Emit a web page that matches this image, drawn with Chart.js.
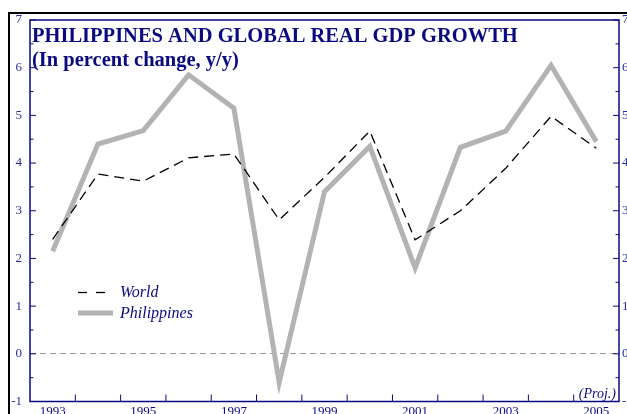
<!DOCTYPE html>
<html>
<head>
<meta charset="utf-8">
<script src="https://cdn.jsdelivr.net/npm/chart.js@4.4.1/dist/chart.umd.min.js"></script>
<style>
  html, body { margin: 0; padding: 0; background: #fff; overflow: hidden; }
  #wrap { width: 627px; height: 414px; overflow: hidden; }
  canvas { display: block; }
</style>
</head>
<body>
<div id="wrap"><canvas id="gdp" width="640" height="414"></canvas></div>
<script>
// data
const years = ['1993', '1994', '1995', '1996', '1997', '1998', '1999', '2000', '2001', '2002', '2003', '2004', '2005'];
const world = [2.4, 3.77, 3.62, 4.11, 4.19, 2.81, 3.7, 4.67, 2.39, 3.0, 3.89, 4.98, 4.31];
const philippines = [2.15, 4.4, 4.68, 5.85, 5.15, -0.6, 3.4, 4.35, 1.8, 4.33, 4.67, 6.05, 4.45];
const yTickLabels = [-1, 0, 1, 2, 3, 4, 5, 6, 7];

const NAVY = '#0a0a80';
const SERIF = "'Liberation Serif', 'Times New Roman', serif";

// frame, inner tick marks, title and legend
const decorations = {
  id: 'decorations',
  beforeDraw(chart) {
    const {ctx, width, height} = chart;
    ctx.save();
    ctx.fillStyle = '#fff';
    ctx.fillRect(0, 0, width, height);
    ctx.strokeStyle = '#000';
    ctx.lineWidth = 2;
    ctx.beginPath();
    ctx.moveTo(9, height);
    ctx.lineTo(9, 13);
    ctx.lineTo(width, 13);
    ctx.stroke();
    ctx.restore();
  },
  afterDraw(chart) {
    const {ctx, chartArea: a, scales} = chart;
    ctx.save();

    // plot box
    ctx.strokeStyle = NAVY;
    ctx.lineWidth = 1.5;
    ctx.strokeRect(a.left, a.top, a.right - a.left, a.bottom - a.top);

    // y ticks pointing inwards on both sides
    ctx.lineWidth = 1;
    scales.y.ticks.forEach(t => {
      const y = scales.y.getPixelForValue(t.value);
      const len = Number.isInteger(t.value) ? 6 : 3.5;
      ctx.beginPath();
      ctx.moveTo(a.left, y);
      ctx.lineTo(a.left + len, y);
      ctx.moveTo(a.right, y);
      ctx.lineTo(a.right - len, y);
      ctx.stroke();
    });

    // x ticks between the years
    for (let i = 0; i < years.length - 1; i++) {
      const x = (scales.x.getPixelForValue(i) + scales.x.getPixelForValue(i + 1)) / 2;
      ctx.beginPath();
      ctx.moveTo(x, a.bottom);
      ctx.lineTo(x, a.bottom - 7);
      ctx.stroke();
    }

    // title
    ctx.fillStyle = NAVY;
    ctx.font = 'bold 20.5px ' + SERIF;
    ctx.textBaseline = 'alphabetic';
    ctx.fillText('PHILIPPINES AND GLOBAL REAL GDP GROWTH', 32, 41.5);
    ctx.fillText('(In percent change, y/y)', 32, 65.5);

    // legend
    const ds = chart.data.datasets;
    ctx.strokeStyle = ds[0].borderColor;
    ctx.lineWidth = ds[0].borderWidth;
    ctx.setLineDash([9, 9]);
    ctx.beginPath();
    ctx.moveTo(78, 292.5);
    ctx.lineTo(106, 292.5);
    ctx.stroke();
    ctx.setLineDash([]);
    ctx.strokeStyle = ds[1].borderColor;
    ctx.lineWidth = ds[1].borderWidth;
    ctx.beginPath();
    ctx.moveTo(78, 313);
    ctx.lineTo(113, 313);
    ctx.stroke();
    ctx.fillStyle = NAVY;
    ctx.font = 'italic 16px ' + SERIF;
    ctx.fillText(ds[0].label, 120, 297);
    ctx.fillText(ds[1].label, 120, 318);

    ctx.font = 'italic 14px ' + SERIF;
    ctx.textAlign = 'right';
    ctx.fillText('(Proj.)', 616, 398);
    ctx.restore();
  }
};

const yTickOpts = {
  stepSize: 0.5,
  autoSkip: false,
  color: '#2b2ba0',
  font: {family: SERIF, size: 13, lineHeight: 0.6},
  callback: v => (yTickLabels.includes(v) ? v : '')
};

new Chart(document.getElementById('gdp').getContext('2d'), {
  type: 'line',
  data: {
    labels: years,
    datasets: [
      {
        label: 'World',
        data: world,
        borderColor: '#000',
        borderWidth: 1.3,
        borderDash: [10, 6],
        pointRadius: 0,
        tension: 0,
        fill: false
      },
      {
        label: 'Philippines',
        data: philippines,
        borderColor: '#b3b3b3',
        borderWidth: 5,
        borderJoinStyle: 'miter',
        borderCapStyle: 'butt',
        pointRadius: 0,
        tension: 0,
        fill: false
      }
    ]
  },
  options: {
    responsive: false,
    animation: false,
    layout: {padding: {top: 20, left: 0, right: 0, bottom: 0}},
    plugins: {
      legend: {display: false},
      tooltip: {enabled: false}
    },
    scales: {
      x: {
        offset: true,
        grid: {display: false, drawTicks: false, tickLength: 0},
        border: {display: false},
        ticks: {
          autoSkip: false,
          maxRotation: 0,
          padding: 2,
          color: NAVY,
          font: {family: SERIF, size: 13},
          callback: (v, i) => (i % 2 === 0 ? years[i] : '')
        },
        afterFit: s => { s.height = 12.5; }
      },
      y: {
        position: 'left',
        min: yTickLabels[0],
        max: yTickLabels[yTickLabels.length - 1],
        ticks: Object.assign({padding: 8}, yTickOpts),
        grid: {
          drawTicks: false,
          lineWidth: 1,
          color: c => (c.tick && c.tick.value === 0 ? '#9a9a9a' : 'rgba(0,0,0,0)')
        },
        border: {display: false, dash: [6, 4]},
        afterFit: s => { s.width = 30; }
      },
      y2: {
        position: 'right',
        min: yTickLabels[0],
        max: yTickLabels[yTickLabels.length - 1],
        ticks: Object.assign({padding: 3}, yTickOpts),
        grid: {display: false, drawTicks: false},
        border: {display: false},
        afterFit: s => { s.width = 21; }
      }
    }
  },
  plugins: [decorations]
});
</script>
</body>
</html>
